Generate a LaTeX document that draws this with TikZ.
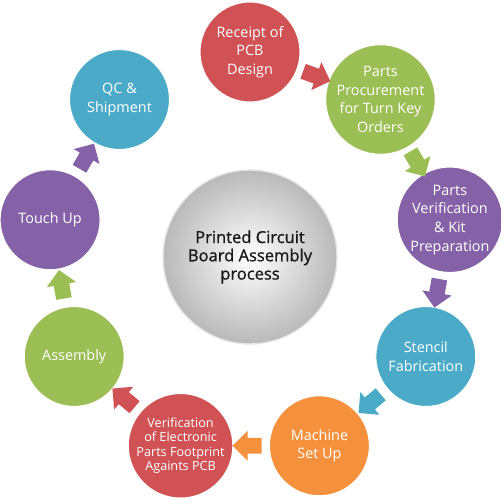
\documentclass[tikz,border=0pt]{standalone}
\usepackage{fontspec}
\setmainfont{Open Sans}
\newfontfamily\corefont[FakeBold=1]{Open Sans}
\usetikzlibrary{shapes.arrows}
\definecolor{cred}{RGB}{208,82,84}
\definecolor{cgreen}{RGB}{155,190,85}
\definecolor{cpurple}{RGB}{133,98,168}
\definecolor{cblue}{RGB}{74,170,200}
\definecolor{corange}{RGB}{245,145,60}
\begin{document}
\begin{tikzpicture}[x=0.02cm,y=0.02cm,
  stage/.style={circle, minimum size=2cm, inner sep=0pt, text=white, align=center,
    font=\fontsize{8.2}{10.6}\selectfont, draw=white, line width=0.6pt},
  flow/.style={single arrow, sloped, allow upside down, inner sep=0pt,
    text height=0.15cm, text depth=0.15cm, minimum height=0.58cm,
    single arrow head extend=0.14cm, fill=#1, draw=none}]
\useasboundingbox (-250,-245) rectangle (250,255);
\node[circle, minimum size=3.48cm, inner color=white, outer color=gray!55,
  draw=gray!20, line width=0.8pt, align=center, text=black!90,
  font=\corefont\fontsize{9.4}{10.4}\selectfont] (core) at (0,-2)
  {Printed Circuit\\Board Assembly\\process};
\node[stage, fill=cred]    (s1) at (90:203)   {Receipt of\\PCB\\Design};
\node[stage, fill=cgreen]  (s2) at (50:203)   {Parts\\Procurement\\for Turn Key\\Orders};
\node[stage, fill=cpurple] (s3) at (10:203)   {Parts\\Verification\\\& Kit\\Preparation};
\node[stage, fill=cblue]   (s4) at (-30:203)  {Stencil\\Fabrication};
\node[stage, fill=corange] (s5) at (-70:203)  {Machine\\Set Up};
\node[stage, fill=cred, font=\fontsize{7.2}{8.3}\selectfont] (s6) at (-110:203)
  {Verification\\of Electronic\\Parts Footprint\\Againts PCB};
\node[stage, fill=cgreen]  (s7) at (-150:203) {Assembly};
\node[stage, fill=cpurple] (s8) at (170:203)  {Touch Up};
\node[stage, fill=cblue]   (s9) at (130:203)  {QC \&\\Shipment};
\path (s1) -- node[flow=cred]    (a1) {} (s2);
\path (s2) -- node[flow=cgreen]  (a2) {} (s3);
\path (s3) -- node[flow=cpurple] (a3) {} (s4);
\path (s4) -- node[flow=cblue]   (a4) {} (s5);
\path (s5) -- node[flow=corange] (a5) {} (s6);
\path (s6) -- node[flow=cred]    (a6) {} (s7);
\path (s7) -- node[flow=cgreen]  (a7) {} (s8);
\path (s8) -- node[flow=cpurple] (a8) {} (s9);
\end{tikzpicture}
\end{document}
